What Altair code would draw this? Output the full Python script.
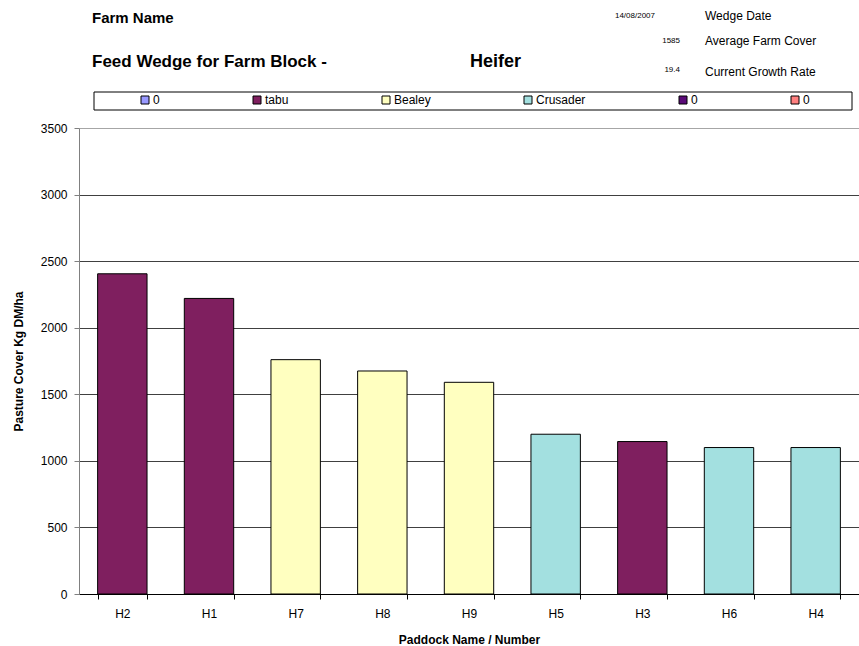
import altair as alt
import pandas as pd

# Paddocks in wedge order, with their cover (kg DM/ha) and pasture variety
paddocks = ["H2", "H1", "H7", "H8", "H9", "H5", "H3", "H6", "H4"]
covers = [2405, 2220, 1760, 1675, 1590, 1200, 1145, 1100, 1100]
varieties = ["tabu", "tabu", "Bealey", "Bealey", "Bealey", "Crusader", "tabu", "Crusader", "Crusader"]

# Series shown in the key (blank series are labelled "0"; trailing spaces keep them distinct)
series_names = ["0", "tabu", "Bealey", "Crusader", "0 ", "0  "]
series_colors = ["#9999FF", "#7F1F5F", "#FFFFC0", "#A3E0E0", "#5A0A78", "#FF8080"]

# Header block
farm_name = "Farm Name"
block_title = "Feed Wedge for Farm Block -"
block_name = "Heifer"
info_values = ["14/08/2007", "1585", "19.4"]
info_labels = ["Wedge Date", "Average Farm Cover", "Current Growth Rate"]

y_ticks = [0, 500, 1000, 1500, 2000, 2500, 3000, 3500]

FONT = "Liberation Sans"

df = pd.DataFrame({"paddock": paddocks, "cover": covers, "variety": varieties})
one_row = pd.DataFrame({"k": [0]})

bars = alt.Chart(df).mark_bar(stroke="#000000", strokeWidth=1).encode(
    x=alt.X(
        "paddock:N",
        sort=paddocks,
        scale=alt.Scale(paddingInner=0.43, paddingOuter=0.215),
        axis=alt.Axis(
            title="Paddock Name / Number",
            labelAngle=0,
            tickBand="extent",
            tickSize=5,
            tickColor="#000000",
            domainColor="#000000",
            labelPadding=9,
            titlePadding=15,
            grid=False,
        ),
    ),
    y=alt.Y(
        "cover:Q",
        scale=alt.Scale(domain=[0, 3500], nice=False),
        axis=alt.Axis(
            title="Pasture Cover Kg DM/ha",
            values=y_ticks,
            format="d",
            tickSize=5,
            tickColor="#808080",
            domainColor="#808080",
            labelPadding=7,
            titlePadding=15,
            grid=True,
            gridColor={"condition": {"test": "datum.value === 3500", "value": "#A6A6A6"}, "value": "#404040"},
        ),
    ),
    color=alt.Color(
        "variety:N",
        scale=alt.Scale(domain=series_names, range=series_colors),
        legend=alt.Legend(
            title=None,
            orient="none",
            legendX=60,
            legendY=-34,
            direction="horizontal",
            columns=6,
            columnPadding=91,
            gridAlign="none",
            symbolType="square",
            symbolSize=64,
            symbolStrokeColor="#000000",
            symbolStrokeWidth=1,
            symbolOffset=0,
            labelOffset=2,
            labelFontSize=12,
            labelFont=FONT,
            labelColor="#000000",
            labelExpr="trim(datum.label)",
            padding=0,
        ),
    ),
)

# Frame around the key
key_frame = alt.Chart(one_row).mark_rect(fill="#FFFFFF", stroke="#000000", strokeWidth=1).encode(
    x=alt.value(15), x2=alt.value(773), y=alt.value(-36), y2=alt.value(-18)
)

def header_text(text, x, y, size, bold=False, align="left"):
    return alt.Chart(one_row).mark_text(
        text=text,
        font=FONT,
        fontSize=size,
        fontWeight="bold" if bold else "normal",
        align=align,
        baseline="middle",
        color="#000000",
    ).encode(x=alt.value(x), y=alt.value(y))

headers = [
    header_text(farm_name, 13, -110, 15, bold=True),
    header_text(block_title, 13, -66, 17, bold=True),
    header_text(block_name, 391, -66, 18, bold=True),
    header_text(info_values[0], 576, -112, 8, align="right"),
    header_text(info_values[1], 601, -87, 8, align="right"),
    header_text(info_values[2], 601, -58, 8, align="right"),
    header_text(info_labels[0], 626, -112, 12),
    header_text(info_labels[1], 626, -87, 12),
    header_text(info_labels[2], 626, -56, 12),
]

chart = alt.layer(key_frame, bars, *headers).properties(
    width=780,
    height=466,
    autosize=alt.AutoSizeParams(type="none"),
    padding={"left": 79, "top": 128, "right": 0, "bottom": 52},
    background="#FFFFFF",
).configure_axis(
    labelFont=FONT,
    labelFontSize=12,
    labelColor="#000000",
    titleFont=FONT,
    titleFontSize=12,
    titleFontWeight="bold",
    titleColor="#000000",
).configure_view(stroke=None)

chart.save("out.html", embed_options={"renderer": "svg", "actions": False})
